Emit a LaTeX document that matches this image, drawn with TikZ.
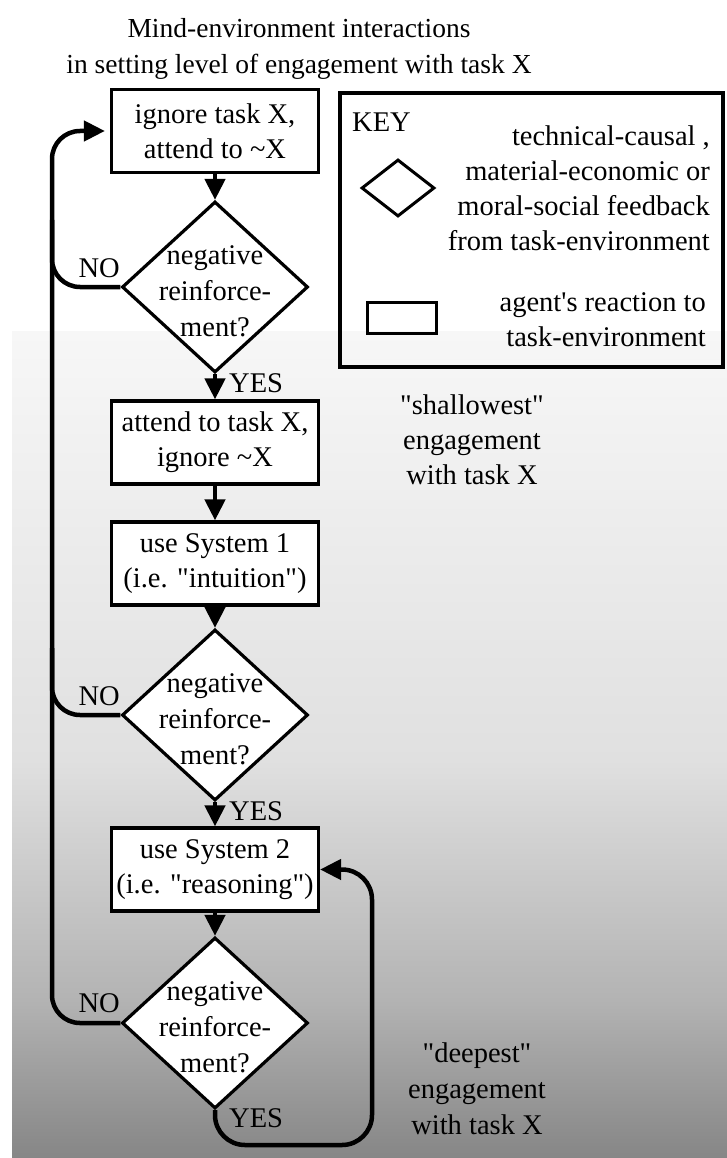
\documentclass[tikz,border=0pt]{standalone}
\usepackage{fontspec}
\newfontfamily\tnr{Liberation Serif}
\usetikzlibrary{shapes.geometric,arrows.meta}
\definecolor{bgA}{RGB}{247,247,247}
\definecolor{bgB}{RGB}{224,224,224}
\definecolor{bgC}{RGB}{179,179,179}
\definecolor{bgD}{RGB}{134,134,134}
\begin{document}
\begin{tikzpicture}[x=1pt,y=-1pt,
  font=\tnr\fontsize{28.5}{35}\selectfont,
  stepbox/.style={draw, line width=3.2pt, fill=white, minimum width=207pt, minimum height=83pt, inner sep=0pt, align=center},
  decision/.style={diamond, draw, line width=3.2pt, fill=white, minimum width=186pt, minimum height=171pt, inner sep=0pt},
  dtext/.style={align=center, font=\tnr\fontsize{28.5}{36}\selectfont, inner sep=0pt},
  conn/.style={line width=4.5pt, -{Triangle[length=21pt,width=20pt]}},
  loopline/.style={line width=4.5pt, rounded corners=28pt},
  lbl/.style={inner sep=0pt}
]
\useasboundingbox (0,0) rectangle (727,1158);
% background
\fill[white] (0,0) rectangle (727,1158);
\shade[top color=bgA, bottom color=bgB] (12,331) rectangle (727,760.5);
\shade[top color=bgB, bottom color=bgC] (12,760) rectangle (727,1000.5);
\shade[top color=bgC, bottom color=bgD] (12,1000) rectangle (727,1158);

% title
\node[align=center, lbl, font=\tnr\fontsize{27.5}{36}\selectfont] (title) at (299,49) {Mind-environment interactions\\in setting level of engagement with task X};

% flow nodes
\node[stepbox] (b1) at (215,131) {ignore task X,\\attend to \textasciitilde X};
\node[decision] (d1) at (215,287) {};
\node[dtext] (t1) at (215,291) {negative\\reinforce-\\ment?};
\node[stepbox] (b2) at (215,442.5) {attend to task X,\\ignore \textasciitilde X};
\node[stepbox] (b3) at (215,563.5) {use System 1\\(i.e. "intuition")};
\node[decision] (d2) at (215,715) {};
\node[dtext] (t2) at (215,719) {negative\\reinforce-\\ment?};
\node[stepbox] (b4) at (215,869.5) {use System 2\\(i.e. "reasoning")};
\node[decision] (d3) at (215,1023) {};
\node[dtext] (t3) at (215,1027) {negative\\reinforce-\\ment?};

% straight connectors
\draw[conn] (b1.south) -- (d1.north);
\draw[conn] (d1.south) -- (b2.north);
\draw[conn] (b2.south) -- (b3.north);
\draw[conn] (b3.south) -- (d2.north);
\draw[conn] (d2.south) -- (b4.north);
\draw[conn] (b4.south) -- (d3.north);

% NO loop back to top
\coordinate (lb) at (52,1023);
\coordinate (lt) at (52,131);
\draw[conn, rounded corners=28pt, shorten >=5pt] (d3.west) -- (lb) -- (lt) -- (b1.west);
\draw[loopline] (d1.west) -- (52,287) -- (52,220);
\draw[loopline] (d2.west) -- (52,715) -- (52,648);

% YES loop from bottom decision
\coordinate (rb) at (372,1145);
\coordinate (rt) at (372,869.5);
\draw[conn, rounded corners=30pt] (d3.south) |- (rb) -- (rt) -- (b4.east);

% labels
\node[lbl, anchor=base east] (no1) at (120,277) {NO};
\node[lbl, anchor=base east] (no2) at (120,705) {NO};
\node[lbl, anchor=base east] (no3) at (120,1012) {NO};
\node[lbl, anchor=base west] (yes1) at (229,392) {YES};
\node[lbl, anchor=base west] (yes2) at (229,820) {YES};
\node[lbl, anchor=base west] (yes3) at (229,1127) {YES};

\node[lbl, align=center] (shallow) at (472,440) {"shallowest"\\engagement\\with task X};
\node[lbl, align=center, font=\tnr\fontsize{28.5}{36}\selectfont] (deep) at (477,1089) {"deepest"\\engagement\\with task X};

% key
\node[draw, line width=3.6pt, minimum width=383pt, minimum height=274pt, inner sep=0pt] (key) at (531.5,230) {};
\node[lbl, anchor=base west] (keyt) at (352,132) {KEY};
\node[diamond, draw, line width=3pt, minimum width=73pt, minimum height=57pt, inner sep=0pt] (kd) at (398,188) {};
\node[lbl, align=right, anchor=east] (kdt) at (710,188) {technical-causal ,\\material-economic or\\moral-social feedback\\from task-environment};
\node[draw, line width=3pt, minimum width=69pt, minimum height=31pt, inner sep=0pt] (kr) at (401.5,317.5) {};
\node[lbl, align=right, anchor=east] (krt) at (706,320) {agent's reaction to\\task-environment};
\end{tikzpicture}
\end{document}
